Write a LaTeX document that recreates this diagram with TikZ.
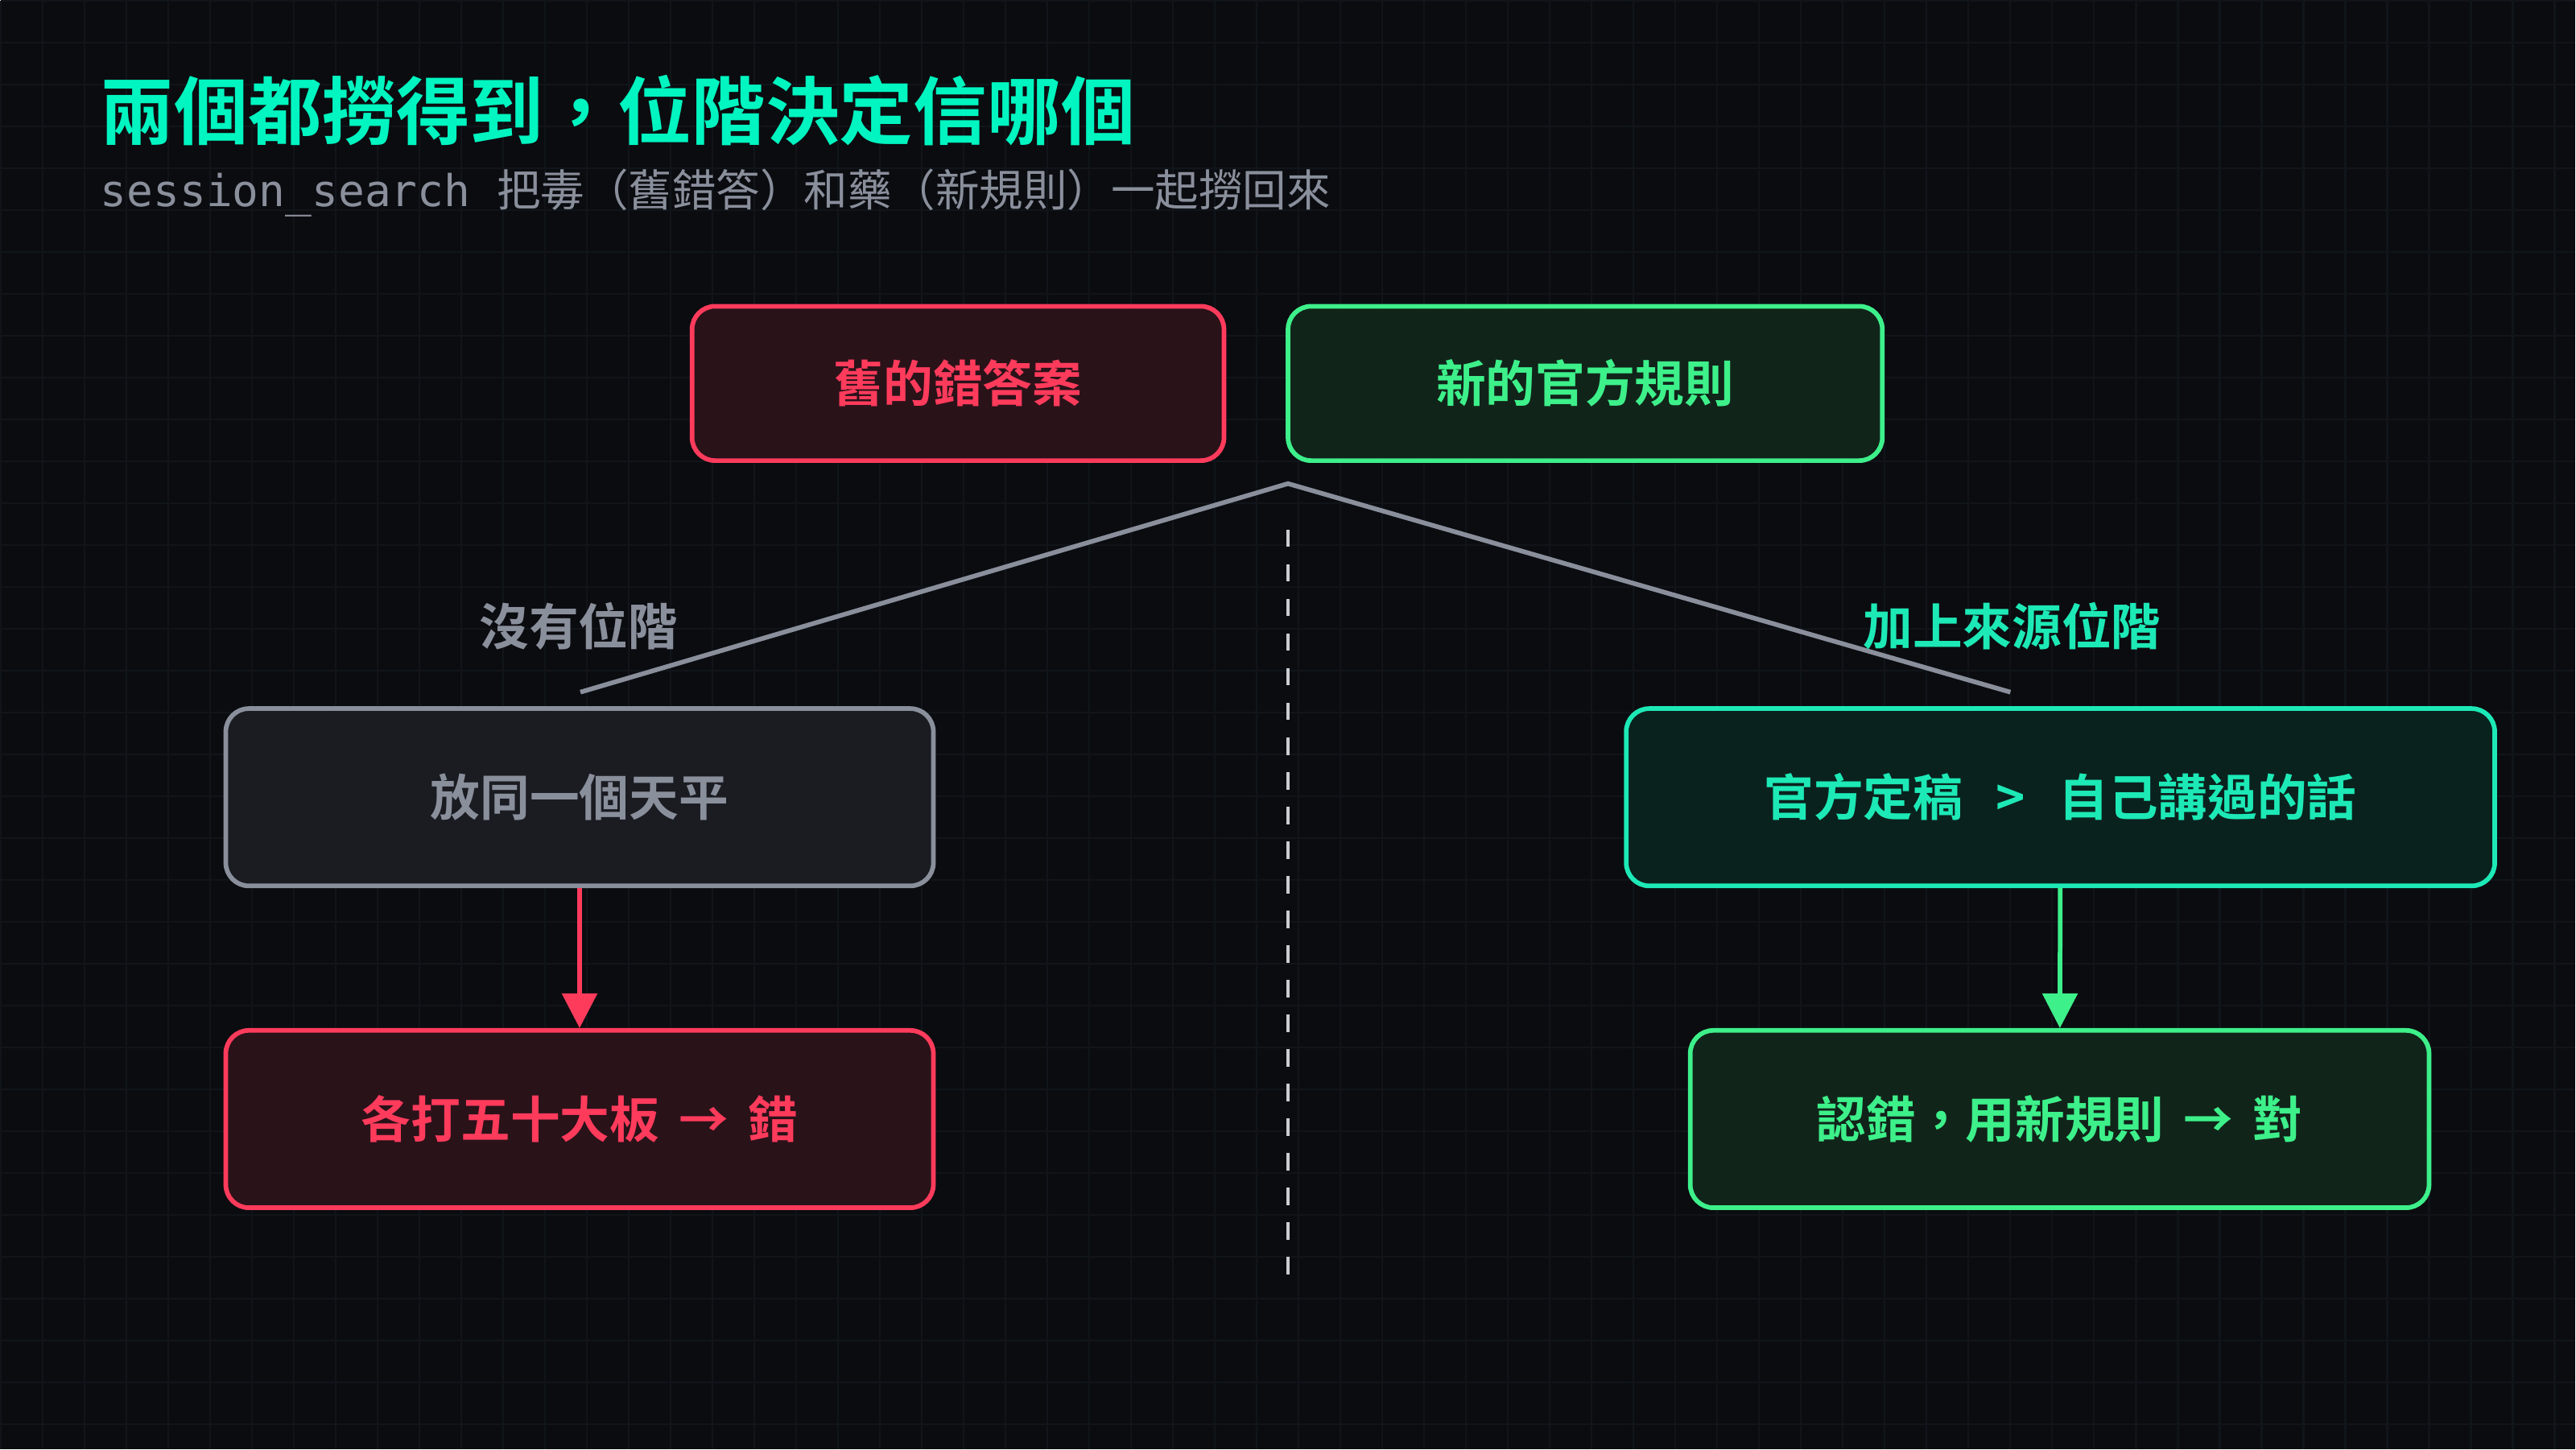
\documentclass[tikz,border=0pt]{standalone}
\usepackage{fontspec}
\setmainfont{Noto Sans CJK TC}
\newfontfamily\cjkbold{Noto Sans CJK TC Bold}
\newfontfamily\monofont{DejaVu Sans Mono}
\usetikzlibrary{arrows.meta}

\definecolor{bgdark}{HTML}{0B0C10}
\definecolor{gridc}{HTML}{10151A}
\definecolor{titlec}{HTML}{00F5C0}
\definecolor{subc}{HTML}{8A8F9C}
\definecolor{redc}{HTML}{FF3B5C}
\definecolor{redfill}{HTML}{2A1219}
\definecolor{greenc}{HTML}{3DF08A}
\definecolor{greenfill}{HTML}{11241A}
\definecolor{tealc}{HTML}{1DE9B6}
\definecolor{tealfill}{HTML}{0A221E}
\definecolor{grayc}{HTML}{8A8F9C}
\definecolor{grayfill}{HTML}{1A1C22}

\begin{document}
\begin{tikzpicture} [
    x=0.01cm, y=-0.01cm,
  ]

  \tikzset{
    card/.style={
      rectangle,
      rounded corners=4pt,
      line width=0.8pt,
      font=\cjkbold\fontsize{8.6}{10}\selectfont,
      inner sep=0pt,
    },
    badcard/.style={card, draw=redc, fill=redfill, text=redc},
    goodcard/.style={card, draw=greenc, fill=greenfill, text=greenc},
    rankcard/.style={card, draw=tealc, fill=tealfill, text=tealc},
    flatcard/.style={card, draw=grayc, fill=grayfill, text=grayc},
    branch/.style={line width=0.8pt, draw=grayc},
    flow/.style={line width=0.8pt, -{Triangle[length=6pt,width=6pt]}},
    tag/.style={font=\cjkbold\fontsize{8.6}{10}\selectfont},
  }

  % background and grid
  \fill[bgdark] (0,0) rectangle (1568,882);
  \foreach \gx in {0,25.5,...,1568}
    \draw[gridc, line width=0.3pt] (\gx,0) -- (\gx,882);
  \foreach \gy in {0,25.5,...,882}
    \draw[gridc, line width=0.3pt] (0,\gy) -- (1568,\gy);
  \useasboundingbox (0,0) rectangle (1568,882);

  % heading
  \node[anchor=base west, text=titlec, font=\cjkbold\fontsize{12.8}{14}\selectfont, inner sep=0pt]
    (title) at (60,84) {兩個都撈得到，位階決定信哪個};
  \node[anchor=base west, text=subc, font=\fontsize{7.6}{9}\selectfont, inner sep=0pt]
    (subtitle) at (60,125) {{\monofont session\char`_search}\hspace{0.6em}把毒（舊錯答）和藥（新規則）一起撈回來};

  % sources
  \node[badcard, minimum width=324*0.01cm, minimum height=94*0.01cm]  (oldans) at (583,233) {舊的錯答案};
  \node[goodcard, minimum width=362*0.01cm, minimum height=94*0.01cm] (newrule) at (965,233) {新的官方規則};

  % split
  \coordinate (fork) at (784,294);
  \coordinate (lend) at (353,421);
  \coordinate (rend) at (1224,421);
  \coordinate (dtop) at (784,322);
  \coordinate (dbot) at (784,778);
  \draw[branch] (lend) -- (fork) -- (rend);
  \draw[grayc!45, line width=0.5pt, dash pattern=on 3pt off 3pt] (dtop) -- (dbot);

  \node[tag, text=grayc] (nolabel)  at (352,381) {沒有位階};
  \node[tag, text=tealc] (yeslabel) at (1225,381) {加上來源位階};

  % left branch
  \node[flatcard, minimum width=431*0.01cm, minimum height=108*0.01cm] (same) at (352.5,485) {放同一個天平};
  \node[badcard, minimum width=431*0.01cm, minimum height=108*0.01cm]  (half) at (352.5,681) {各打五十大板 \,→\, 錯};

  % right branch
  \node[rankcard, minimum width=529*0.01cm, minimum height=108*0.01cm] (rank) at (1254.5,485) {官方定稿 \;\,>\;\, 自己講過的話};
  \node[goodcard, minimum width=450*0.01cm, minimum height=108*0.01cm] (fix)  at (1254,681) {認錯，用新規則 \,→\, 對};

  \draw[flow, redc]   (same) -- (half);
  \draw[flow, greenc] (rank) -- (fix);

\end{tikzpicture}
\end{document}
